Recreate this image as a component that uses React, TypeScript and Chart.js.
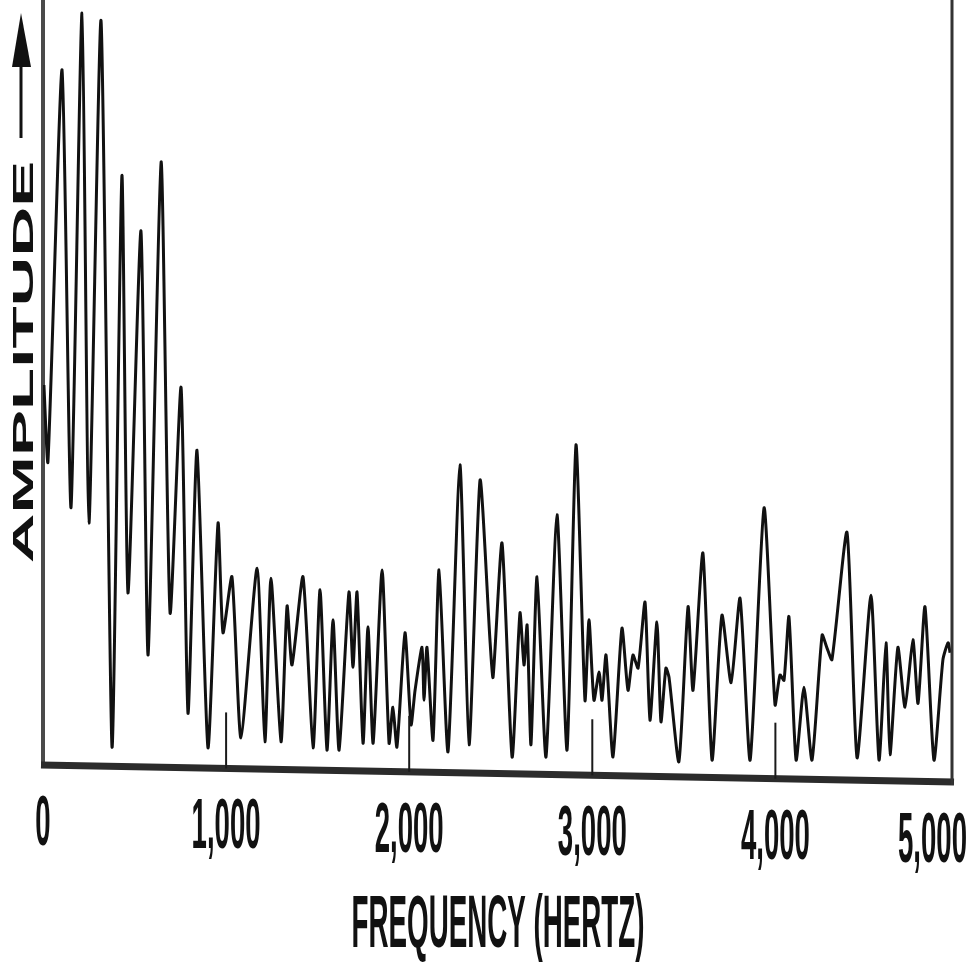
import React, { useEffect, useRef } from 'react';
import { Chart, registerables } from 'chart.js';

Chart.register(...registerables);

// Frequency (Hz) of each traced turning point of the spectrum
const FREQUENCIES_HZ = [
  5, 27, 104, 153, 213, 251, 317, 377, 431, 464,
  535, 574, 645, 694, 754, 792, 841, 901, 956, 983,
  1032, 1081, 1169, 1212, 1245, 1300, 1333, 1360, 1420, 1475,
  1513, 1551, 1584, 1617, 1671, 1693, 1715, 1748, 1775, 1803,
  1852, 1890, 1911, 1933, 1977, 2010, 2032, 2070, 2081, 2097,
  2130, 2163, 2212, 2277, 2327, 2387, 2441, 2458, 2507, 2562,
  2605, 2627, 2644, 2665, 2698, 2747, 2807, 2862, 2911, 2960,
  2982, 3009, 3037, 3053, 3075, 3113, 3162, 3195, 3222, 3250,
  3288, 3315, 3353, 3375, 3402, 3419, 3473, 3523, 3550, 3604,
  3654, 3708, 3758, 3807, 3862, 3938, 3998, 4025, 4047, 4074,
  4113, 4156, 4200, 4255, 4282, 4309, 4391, 4446, 4522, 4566,
  4604, 4626, 4669, 4708, 4751, 4779, 4817, 4866, 4915, 4943,
  4954,
];

// Relative amplitude (0–100) at each of those frequencies
const AMPLITUDES = [
  49.8, 39.8, 90.9, 33.8, 98.3, 31.8, 97.3, 2.6, 77.1, 22.7,
  69.9, 14.6, 78.9, 20.1, 49.5, 7.0, 41.3, 2.5, 31.8, 17.5,
  24.8, 3.8, 25.9, 3.3, 24.6, 3.3, 21.0, 13.3, 24.8, 2.5,
  23.1, 2.2, 19.2, 2.2, 22.8, 13.0, 22.8, 3.1, 18.3, 3.1,
  25.7, 3.1, 7.8, 2.6, 17.5, 5.5, 10.0, 15.6, 8.7, 15.6,
  3.5, 25.7, 2.0, 39.4, 2.9, 37.4, 16.6, 11.7, 29.2, 1.3,
  20.1, 13.3, 18.5, 2.9, 24.8, 1.3, 32.9, 2.2, 42.0, 8.7,
  19.2, 8.7, 12.4, 8.7, 14.6, 1.3, 18.1, 10.0, 14.6, 12.9,
  21.5, 6.1, 18.9, 5.9, 12.9, 11.7, 0.7, 20.9, 10.0, 27.9,
  0.9, 19.8, 11.0, 22.0, 0.9, 33.8, 8.1, 12.0, 11.3, 19.6,
  0.9, 10.4, 0.9, 17.2, 15.5, 14.0, 30.6, 1.2, 22.4, 0.9,
  16.2, 1.6, 15.6, 7.8, 16.6, 8.3, 20.9, 0.9, 14.0, 16.2,
  14.9,
];

const X_TICK_VALUES = [0, 1000, 2000, 3000, 4000, 5000];
const X_TICK_LABELS = ['0', '1,000', '2,000', '3,000', '4,000', '5,000'];
const X_TITLE = 'FREQUENCY (HERTZ)';
const Y_TITLE = 'AMPLITUDE';
const X_MIN = 0;
const X_MAX = 4970;
const Y_MIN = 0;
const Y_MAX = 100;

const FONT_FAMILY = '"Liberation Sans", Arial, Helvetica, sans-serif';
const INK = '#111111';

const scanPlugin = {
  id: 'scanAnnotations',
  afterDraw(chart: any) {
    const { ctx, chartArea, scales } = chart;
    const xs = scales.x;
    const left = chartArea.left;
    const right = chartArea.right;
    const bottom = chartArea.bottom;
    const top = chartArea.top;
    const tilt = 17 / (right - left);
    const axisY = (px: number) => bottom - 2 + (px - left) * tilt;

    ctx.save();

    // bottom axis (slightly skewed, as in the scan)
    ctx.strokeStyle = '#2b2b2b';
    ctx.lineWidth = 7;
    ctx.lineCap = 'butt';
    ctx.beginPath();
    ctx.moveTo(left - 2, axisY(left - 2));
    ctx.lineTo(right + 1, axisY(right + 1));
    ctx.stroke();

    // right frame line
    ctx.strokeStyle = '#333333';
    ctx.lineWidth = 3;
    ctx.beginPath();
    ctx.moveTo(right - 1, top);
    ctx.lineTo(right - 1, axisY(right) + 3);
    ctx.stroke();

    // inward tick marks
    ctx.strokeStyle = '#1a1a1a';
    ctx.lineWidth = 2;
    X_TICK_VALUES.forEach((v) => {
      const px = xs.getPixelForValue(v);
      if (v <= X_MIN || px >= right - 2) return;
      ctx.beginPath();
      ctx.moveTo(px, axisY(px));
      ctx.lineTo(px, axisY(px) - 56);
      ctx.stroke();
    });

    // tick labels (condensed)
    ctx.fillStyle = INK;
    ctx.font = `bold 70px ${FONT_FAMILY}`;
    ctx.textAlign = 'center';
    ctx.textBaseline = 'alphabetic';
    const tickSx = 0.394;
    X_TICK_VALUES.forEach((v, i) => {
      const label = X_TICK_LABELS[i];
      const w = ctx.measureText(label).width * tickSx;
      let px = xs.getPixelForValue(v);
      px = Math.min(px, chart.width - 2 - w / 2);
      const baseline = axisY(px) + 80;
      ctx.save();
      ctx.translate(px, baseline);
      ctx.scale(tickSx, 1);
      ctx.fillText(label, 0, 0);
      ctx.restore();
    });

    // x title
    ctx.font = `bold 75px ${FONT_FAMILY}`;
    ctx.save();
    ctx.translate((left + right) / 2, bottom + 180);
    ctx.scale(0.37, 1);
    ctx.fillText(X_TITLE, 0, 0);
    ctx.restore();

    // y title, rotated
    const yFont = 69;
    ctx.font = `bold ${yFont}px ${FONT_FAMILY}`;
    const yTitleX = left - 21;
    const yTitleY = top + 362;
    ctx.save();
    ctx.translate(yTitleX, yTitleY);
    ctx.rotate(-Math.PI / 2);
    ctx.scale(1, 0.44);
    ctx.textAlign = 'center';
    ctx.fillText(Y_TITLE, 0, (yFont * 0.716) / 2);
    ctx.restore();

    // arrow after the y title
    ctx.strokeStyle = INK;
    ctx.lineWidth = 3;
    ctx.beginPath();
    ctx.moveTo(yTitleX - 1, top + 138);
    ctx.lineTo(yTitleX - 1, top + 62);
    ctx.stroke();
    ctx.beginPath();
    ctx.moveTo(yTitleX - 1, top + 13);
    ctx.lineTo(yTitleX - 10, top + 67);
    ctx.lineTo(yTitleX + 9, top + 67);
    ctx.closePath();
    ctx.fill();

    ctx.restore();
  },
};

export default function App() {
  const canvasRef = useRef<HTMLCanvasElement | null>(null);

  useEffect(() => {
    const canvas = canvasRef.current;
    if (!canvas) return;
    const points = FREQUENCIES_HZ.map((f, i) => ({ x: f, y: AMPLITUDES[i] }));
    const chart = new Chart(canvas, {
      type: 'line',
      data: {
        datasets: [
          {
            label: 'Amplitude',
            data: points,
            borderColor: INK,
            borderWidth: 3,
            pointRadius: 0,
            tension: 0.2,
            fill: false,
          },
        ],
      },
      options: {
        animation: false,
        responsive: true,
        maintainAspectRatio: false,
        layout: { padding: { left: 43, right: 16, top: 0, bottom: 201 } },
        plugins: {
          legend: { display: false },
          tooltip: { enabled: false },
          title: { display: false },
        },
        scales: {
          x: {
            type: 'linear',
            min: X_MIN,
            max: X_MAX,
            grid: { display: false, drawTicks: false },
            border: { display: false },
            ticks: { display: false },
            title: { display: false, text: X_TITLE },
          },
          y: {
            type: 'linear',
            min: Y_MIN,
            max: Y_MAX,
            grid: { display: false, drawTicks: false },
            border: { display: true, color: '#4a4a4a', width: 4 },
            ticks: { display: false },
            title: { display: false, text: Y_TITLE },
          },
        },
      },
      plugins: [scanPlugin],
    });
    return () => chart.destroy();
  }, []);

  return (
    <div style={{ position: 'absolute', left: 0, top: 0, width: 969, height: 968, background: '#ffffff' }}>
      <canvas ref={canvasRef} />
    </div>
  );
}
